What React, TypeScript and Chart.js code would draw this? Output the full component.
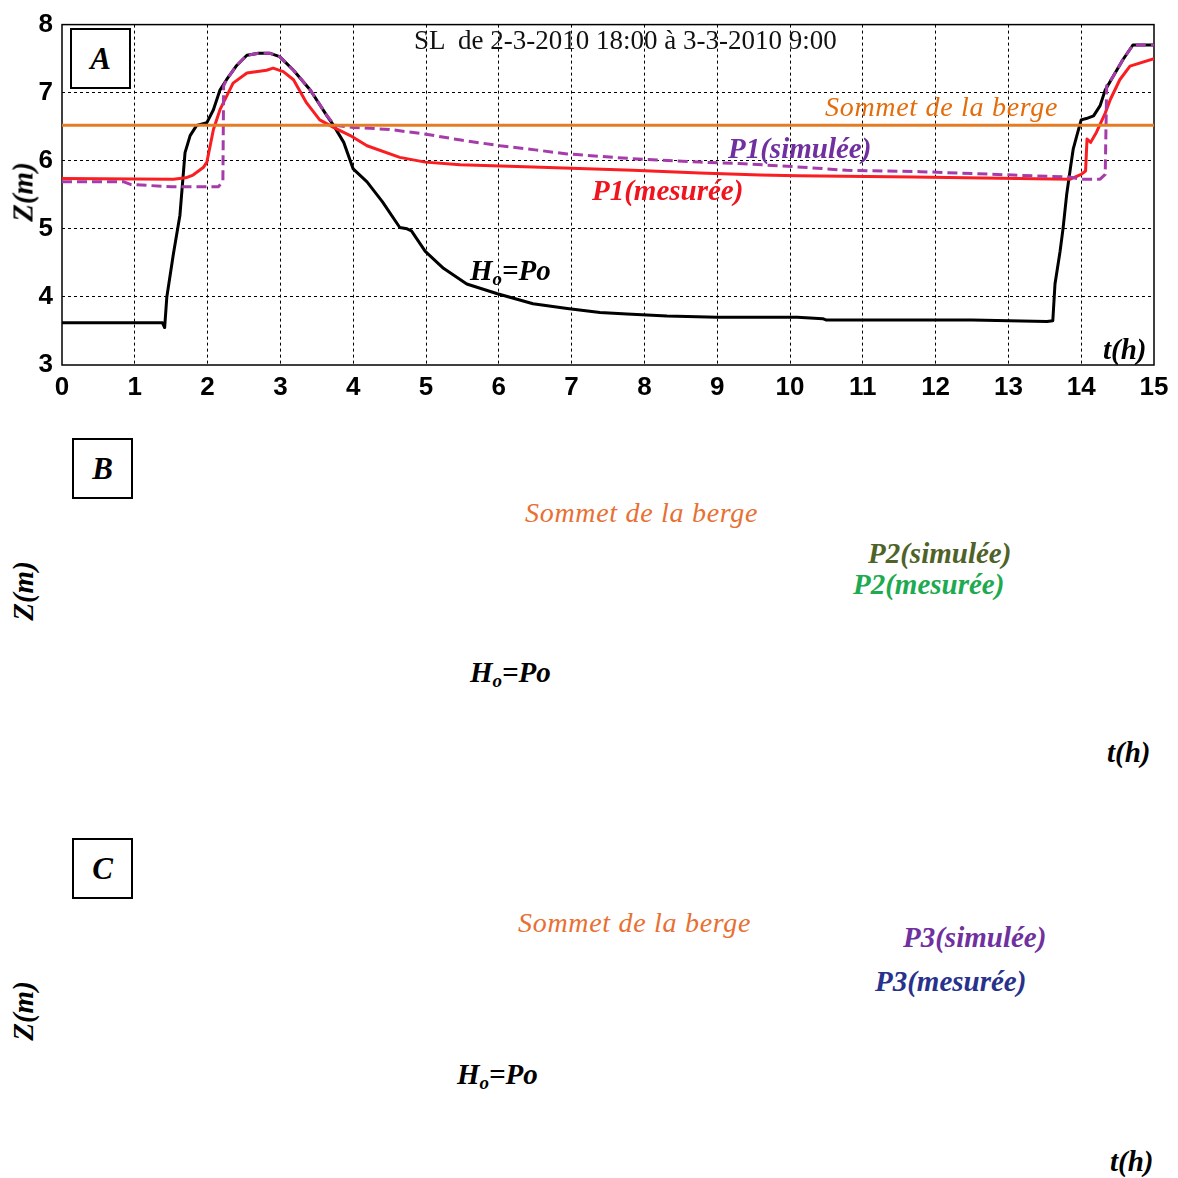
import React, { useEffect, useRef } from 'react';
import { Chart, registerables } from 'chart.js';

Chart.register(...registerables);

// ---- Data (panel A) ----
const xTickLabels = ['0', '1', '2', '3', '4', '5', '6', '7', '8', '9', '10', '11', '12', '13', '14', '15'];
const yTickLabels = ['3', '4', '5', '6', '7', '8'];

const h0Time = [0, 1.38, 1.41, 1.44, 1.53, 1.62, 1.69, 1.76, 1.85, 1.99, 2.08, 2.17, 2.26, 2.4, 2.54, 2.7, 2.85, 2.99, 3.18, 3.41, 3.64, 3.73, 3.87, 4.0, 4.19, 4.4, 4.64, 4.74, 4.8, 4.99, 5.24, 5.56, 5.97, 6.47, 6.94, 7.39, 7.76, 8.31, 9.0, 10.1, 10.45, 10.5, 11.2, 12.5, 13.53, 13.61, 13.64, 13.71, 13.75, 13.8, 13.85, 13.89, 13.94, 14.0, 14.07, 14.17, 14.26, 14.33, 14.44, 14.57, 14.71, 15.0];
const h0Level = [3.62, 3.62, 3.55, 4.0, 4.63, 5.2, 6.12, 6.37, 6.52, 6.56, 6.75, 7.04, 7.19, 7.4, 7.55, 7.58, 7.58, 7.53, 7.33, 7.04, 6.66, 6.52, 6.27, 5.88, 5.69, 5.4, 5.02, 5.0, 4.97, 4.67, 4.42, 4.19, 4.05, 3.9, 3.83, 3.77, 3.75, 3.72, 3.7, 3.7, 3.68, 3.66, 3.66, 3.66, 3.64, 3.65, 4.19, 4.67, 5.0, 5.5, 5.88, 6.17, 6.37, 6.6, 6.62, 6.66, 6.81, 7.04, 7.24, 7.48, 7.7, 7.7];

const p1MesTime = [0, 1.53, 1.7, 1.8, 1.94, 1.99, 2.08, 2.17, 2.35, 2.54, 2.81, 2.9, 3.04, 3.18, 3.36, 3.54, 3.73, 3.96, 4.19, 4.64, 4.99, 5.47, 6.47, 7.84, 8.76, 9.59, 10.1, 11.69, 13.85, 14.0, 14.06, 14.08, 14.13, 14.21, 14.33, 14.4, 14.53, 14.67, 15.0];
const p1MesLevel = [5.74, 5.73, 5.75, 5.79, 5.9, 5.98, 6.46, 6.75, 7.14, 7.29, 7.33, 7.36, 7.31, 7.19, 6.85, 6.6, 6.49, 6.37, 6.22, 6.05, 5.98, 5.94, 5.91, 5.86, 5.82, 5.79, 5.78, 5.76, 5.73, 5.8, 5.85, 6.32, 6.27, 6.42, 6.7, 6.9, 7.19, 7.39, 7.5];

const p1SimTime = [0, 0.85, 0.95, 1.5, 2.15, 2.21, 2.22, 2.26, 2.4, 2.54, 2.7, 2.85, 2.99, 3.18, 3.41, 3.64, 3.75, 4.0, 4.5, 5.0, 5.5, 6.02, 6.5, 6.94, 7.84, 8.76, 9.3, 10.1, 10.78, 11.79, 13.06, 13.85, 13.98, 14.26, 14.33, 14.35, 14.44, 14.57, 14.71, 15.0];
const p1SimLevel = [5.69, 5.69, 5.65, 5.62, 5.62, 5.7, 7.1, 7.19, 7.4, 7.55, 7.58, 7.58, 7.53, 7.33, 7.04, 6.66, 6.52, 6.49, 6.46, 6.39, 6.3, 6.22, 6.16, 6.1, 6.03, 5.98, 5.96, 5.91, 5.86, 5.84, 5.79, 5.76, 5.73, 5.73, 5.8, 7.1, 7.24, 7.48, 7.7, 7.7];

const bankTime = [0, 15];
const bankLevel = [6.52, 6.52];

const pts = (xs: number[], ys: number[]) => xs.map((x, i) => ({ x, y: ys[i] }));

const SERIF = '"Liberation Serif", "Times New Roman", serif';
const TICK_FONT = { family: '"Liberation Sans", Arial, sans-serif', size: 26, weight: 'bold' };

const framePlugin = {
  id: 'frame',
  beforeDatasetsDraw(chart: any) {
    const { ctx, chartArea } = chart;
    const { left, top, right, bottom } = chartArea;
    ctx.save();
    ctx.strokeStyle = '#000';
    ctx.lineWidth = 1.5;
    ctx.strokeRect(left, top, right - left, bottom - top);
    ctx.restore();
  },
};

function Label(props: { x: number; y: number; color?: string; size?: number; bold?: boolean; italic?: boolean; spacing?: number; children: React.ReactNode }) {
  const { x, y, color = '#000', size = 29, bold = true, italic = true, spacing = 0, children } = props;
  return (
    <div
      style={{
        position: 'absolute',
        left: x,
        top: y,
        transform: 'translateY(-50%)',
        fontFamily: SERIF,
        fontSize: size,
        fontWeight: bold ? 'bold' : 'normal',
        fontStyle: italic ? 'italic' : 'normal',
        letterSpacing: spacing,
        color,
        whiteSpace: 'pre',
        lineHeight: 1,
      }}
    >
      {children}
    </div>
  );
}

function ZLabel({ cx, cy }: { cx: number; cy: number }) {
  return (
    <div
      style={{
        position: 'absolute',
        left: cx,
        top: cy,
        transform: 'translate(-50%, -50%) rotate(-90deg)',
        fontFamily: SERIF,
        fontSize: 29,
        fontWeight: 'bold',
        fontStyle: 'italic',
        whiteSpace: 'pre',
        lineHeight: 1,
      }}
    >
      Z(m)
    </div>
  );
}

function Box({ x, y, letter }: { x: number; y: number; letter: string }) {
  return (
    <div
      style={{
        position: 'absolute',
        left: x,
        top: y,
        width: 57,
        height: 57,
        border: '2px solid #000',
        background: '#fff',
        display: 'flex',
        alignItems: 'center',
        justifyContent: 'center',
        fontFamily: SERIF,
        fontSize: 31,
        fontWeight: 'bold',
        fontStyle: 'italic',
      }}
    >
      {letter}
    </div>
  );
}

function Ho({ x, y }: { x: number; y: number }) {
  return (
    <Label x={x} y={y}>
      H<span style={{ fontSize: 19, verticalAlign: '-0.25em' }}>o</span>=Po
    </Label>
  );
}

export default function App() {
  const canvasRef = useRef<HTMLCanvasElement | null>(null);

  useEffect(() => {
    const canvas = canvasRef.current;
    if (!canvas) return;
    const gridColor = (edgeA: number, edgeB: number) => (c: any) =>
      c.tick && (c.tick.value === edgeA || c.tick.value === edgeB) ? 'rgba(0,0,0,0)' : '#000';
    const chart = new Chart(canvas, {
      type: 'line',
      data: {
        datasets: [
          {
            label: 'Sommet de la berge',
            data: pts(bankTime, bankLevel),
            borderColor: 'rgb(228,124,38)',
            borderWidth: 3,
            pointRadius: 0,
            order: 0,
          },
          {
            label: 'P1(simulée)',
            data: pts(p1SimTime, p1SimLevel),
            borderColor: 'rgb(165,60,170)',
            borderWidth: 3,
            borderDash: [10, 5],
            pointRadius: 0,
            order: 1,
          },
          {
            label: 'P1(mesurée)',
            data: pts(p1MesTime, p1MesLevel),
            borderColor: 'rgb(250,30,35)',
            borderWidth: 3,
            pointRadius: 0,
            order: 2,
          },
          {
            label: 'Ho=Po',
            data: pts(h0Time, h0Level),
            borderColor: '#000',
            borderWidth: 3,
            pointRadius: 0,
            order: 3,
          },
        ],
      },
      options: {
        animation: false,
        responsive: false,
        maintainAspectRatio: false,
        layout: { padding: { top: 21, right: 24, left: 0, bottom: 0 } },
        elements: { line: { tension: 0, borderJoinStyle: 'round', borderCapStyle: 'butt' } },
        plugins: { legend: { display: false }, tooltip: { enabled: false }, title: { display: false } },
        scales: {
          x: {
            type: 'linear',
            min: 0,
            max: 15,
            afterFit: (s: any) => { s.height = 35; },
            ticks: {
              stepSize: 1,
              color: '#000',
              padding: 7,
              maxRotation: 0,
              autoSkip: false,
              font: TICK_FONT,
              callback: (v: any) => xTickLabels[Number(v)] ?? '',
            },
            grid: { color: gridColor(0, 15), lineWidth: 1, drawTicks: false },
            border: { display: false, dash: [3, 3] },
          },
          y: {
            type: 'linear',
            min: 3,
            max: 8,
            afterFit: (s: any) => { s.width = 62; },
            ticks: {
              stepSize: 1,
              color: '#000',
              padding: 9,
              font: TICK_FONT,
              callback: (v: any) => yTickLabels[Number(v) - 3] ?? '',
            },
            grid: { color: gridColor(3, 8), lineWidth: 1, drawTicks: false },
            border: { display: false, dash: [3, 3] },
          },
        },
      },
      plugins: [framePlugin],
    } as any);
    return () => chart.destroy();
  }, []);

  return (
    <div style={{ position: 'absolute', left: 0, top: 0, width: 1178, height: 1178, background: '#fff', overflow: 'hidden' }}>
      <canvas ref={canvasRef} width={1178} height={400} style={{ position: 'absolute', left: 0, top: 0 }} />

      {/* Panel A annotations */}
      <Box x={70} y={28} letter="A" />
      <Label x={414} y={40} color="#111" size={27} bold={false} italic={false}>{'SL  de 2-3-2010 18:00 à 3-3-2010 9:00'}</Label>
      <Label x={825} y={107} color="rgb(228,108,10)" size={28} bold={false} spacing={0.7}>Sommet de la berge</Label>
      <Label x={728} y={148} color="#7030a0">P1(simulée)</Label>
      <Label x={592} y={190} color="rgb(240,20,30)">P1(mesurée)</Label>
      <Ho x={470} y={272} />
      <Label x={1103} y={349}>t(h)</Label>
      <ZLabel cx={23} cy={192} />

      {/* Panel B */}
      <Box x={72} y={438} letter="B" />
      <Label x={525} y={513} color="rgb(232,112,50)" size={28} bold={false} spacing={0.7}>Sommet de la berge</Label>
      <Label x={868} y={553} color="#4f6228">P2(simulée)</Label>
      <Label x={853} y={584} color="rgb(30,170,80)">P2(mesurée)</Label>
      <Ho x={470} y={674} />
      <Label x={1107} y={752}>t(h)</Label>
      <ZLabel cx={23} cy={591} />

      {/* Panel C */}
      <Box x={72} y={838} letter="C" />
      <Label x={518} y={923} color="rgb(232,112,50)" size={28} bold={false} spacing={0.7}>Sommet de la berge</Label>
      <Label x={903} y={937} color="#7030a0">P3(simulée)</Label>
      <Label x={875} y={981} color="rgb(40,50,140)">P3(mesurée)</Label>
      <Ho x={457} y={1076} />
      <Label x={1110} y={1161}>t(h)</Label>
      <ZLabel cx={23} cy={1011} />
    </div>
  );
}
